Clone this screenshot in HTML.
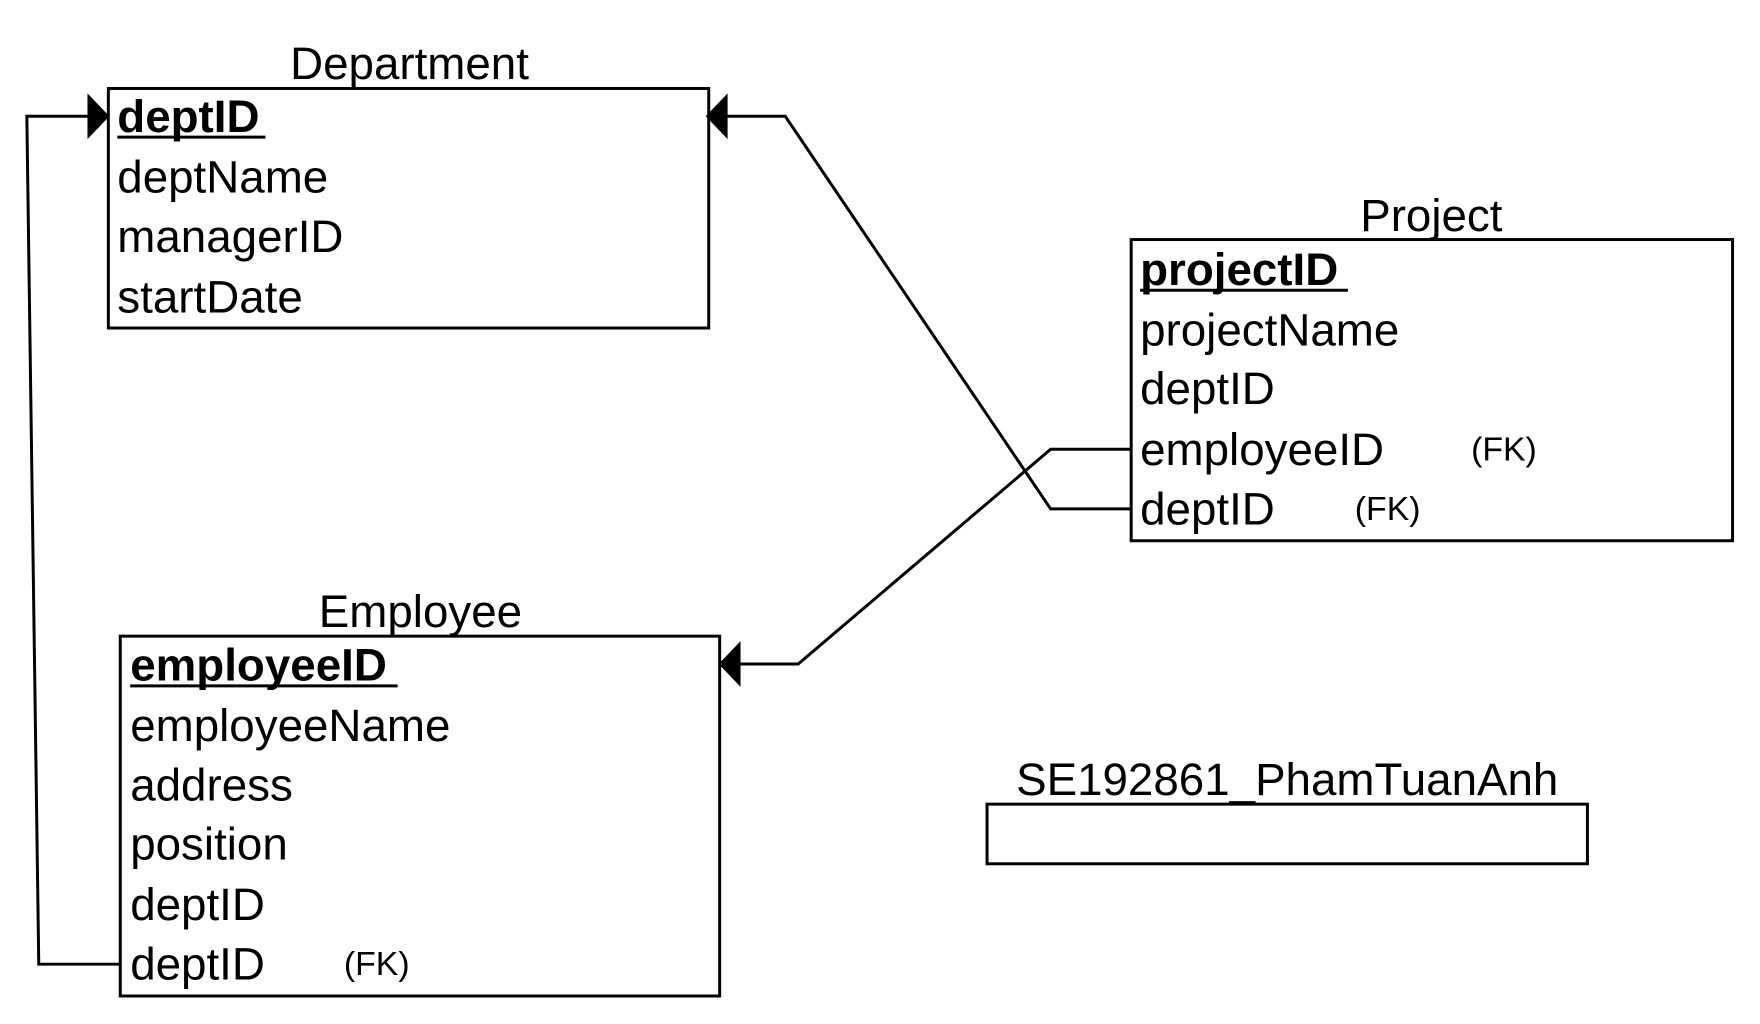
<!DOCTYPE html>
<html><head><meta charset="utf-8"><style>
html,body{margin:0;padding:0;background:#fff;}
svg{display:block;}
text{font-family:"Liberation Sans",Arial,sans-serif;fill:#000;}
.r{font-size:46px;dominant-baseline:central;}
.fk{font-size:34px;dominant-baseline:central;}
.t{font-size:46px;text-anchor:middle;dominant-baseline:central;}
</style></head><body>
<svg width="1760" height="1024" viewBox="0 0 1760 1024" xmlns="http://www.w3.org/2000/svg">
<g transform="scale(0.994)">
<g fill="none" stroke="#000" stroke-width="3">
<rect x="109" y="89" width="604" height="241"/>
<rect x="1138" y="241" width="605" height="303"/>
<rect x="121" y="640" width="603" height="362"/>
<rect x="993" y="809" width="604" height="60"/>
<polyline points="121,970 39,970 27,117 92,117"/>
<polyline points="1138,512 1057,512 790,117 728,117"/>
<polyline points="1138,452 1057,452 803,668 741,668"/>
</g>
<g fill="#000">
<polygon points="88,94 110,117 88,140"/>
<polygon points="732,94 710,117 732,140"/>
<polygon points="745,645 723,668 745,691"/>
</g>
<text class="t" x="412" y="64">Department</text>
<text class="r" x="118" y="117" font-weight="bold">deptID</text>
<text class="r" x="118" y="178">deptName</text>
<text class="r" x="118" y="238">managerID</text>
<text class="r" x="118" y="299">startDate</text>
<line x1="118" y1="138" x2="267" y2="138" stroke="#000" stroke-width="3"/>

<text class="t" x="1440" y="217">Project</text>
<text class="r" x="1147" y="271" font-weight="bold">projectID</text>
<line x1="1147" y1="292" x2="1356" y2="292" stroke="#000" stroke-width="3"/>
<text class="r" x="1147" y="332">projectName</text>
<text class="r" x="1147" y="391">deptID</text>
<text class="r" x="1147" y="452">employeeID</text>
<text class="fk" x="1480" y="452">(FK)</text>
<text class="r" x="1147" y="512">deptID</text>
<text class="fk" x="1363" y="512">(FK)</text>

<text class="t" x="423" y="615">Employee</text>
<text class="r" x="131" y="669" font-weight="bold">employeeID</text>
<line x1="131" y1="690" x2="400" y2="690" stroke="#000" stroke-width="3"/>
<text class="r" x="131" y="730">employeeName</text>
<text class="r" x="131" y="790">address</text>
<text class="r" x="131" y="849">position</text>
<text class="r" x="131" y="910">deptID</text>
<text class="r" x="131" y="970">deptID</text>
<text class="fk" x="346" y="970">(FK)</text>

<text class="t" x="1295" y="784">SE192861_PhamTuanAnh</text>
</g>
</svg>
</body></html>
